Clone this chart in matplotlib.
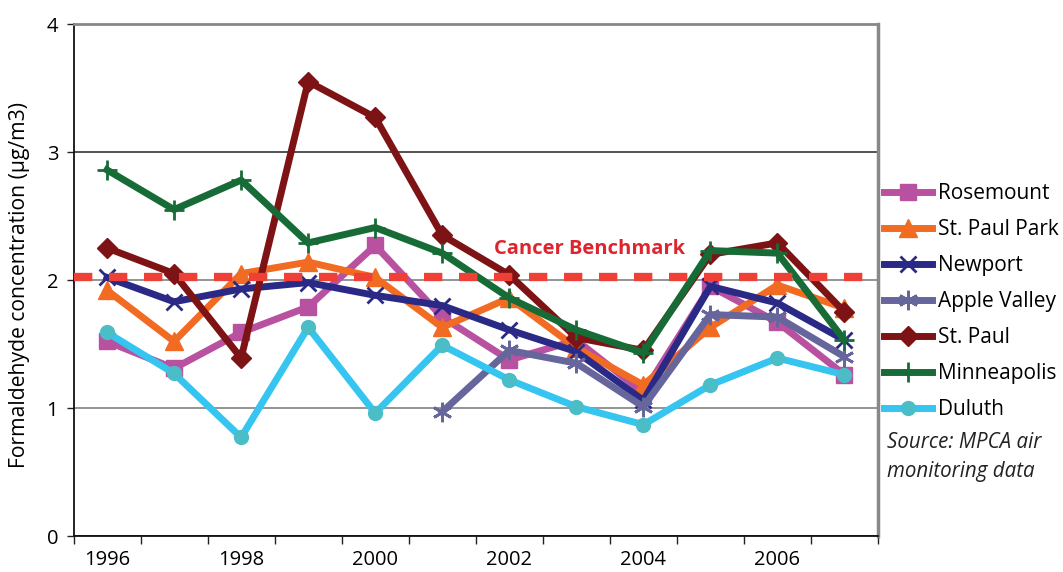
import matplotlib
matplotlib.use("Agg")
import matplotlib.pyplot as plt
import numpy as np

plt.rcParams['font.family'] = ['Open Sans', 'DejaVu Sans']

years = list(range(1996, 2008))
tick_labels = ['1996', '1998', '2000', '2002', '2004', '2006']

rosemount = [1.52, 1.31, 1.59, 1.79, 2.27, 1.71, 1.375, 1.53, 1.12, 1.95, 1.67, 1.26]
st_paul_park = [1.92, 1.52, 2.05, 2.14, 2.02, 1.63, 1.86, 1.47, 1.18, 1.63, 1.96, 1.78]
newport = [2.02, 1.83, 1.93, 1.98, 1.88, 1.80, 1.61, 1.44, 1.06, 1.95, 1.82, 1.53]
apple_valley = [np.nan, np.nan, np.nan, np.nan, np.nan, 0.97, 1.45, 1.35, 1.01, 1.73, 1.71, 1.40]
st_paul = [2.25, 2.05, 1.39, 3.55, 3.27, 2.35, 2.04, 1.55, 1.45, 2.20, 2.29, 1.75]
minneapolis = [2.86, 2.55, 2.78, 2.29, 2.41, 2.21, 1.86, 1.61, 1.43, 2.23, 2.21, 1.53]
duluth = [1.59, 1.27, 0.77, 1.63, 0.96, 1.49, 1.22, 1.01, 0.87, 1.18, 1.39, 1.26]
benchmark = 2.02

series = [
    ("Rosemount", rosemount, '#B8519F', '#B8519F', 's', 12, 1.0),
    ("St. Paul Park", st_paul_park, '#F26B22', '#F26B22', '^', 13, 1.0),
    ("Newport", newport, '#2A2A86', '#2A2A86', 'x', 12, 2.0),
    ("Apple Valley", apple_valley, '#66659C', '#66659C', (6, 2, 0), 14, 2.0),
    ("St. Paul", st_paul, '#7D1315', '#7D1315', 'D', 10, 1.0),
    ("Minneapolis", minneapolis, '#176B36', '#176B36', '+', 14, 2.0),
    ("Duluth", duluth, '#35C5F0', '#4ABDC6', 'o', 11, 0.0),
]

fig = plt.figure(figsize=(10.63, 5.72), dpi=100)
ax = fig.add_axes([73.5 / 1063, 1 - 536 / 572, (878 - 73.5) / 1063, (536 - 24) / 572])

x = np.arange(len(years))
handles = []
for name, vals, lc, mc, mk, ms, mew in series:
    h, = ax.plot(x, vals, color=lc, lw=5, marker=mk, markersize=ms,
                 markerfacecolor=mc, markeredgecolor=mc, markeredgewidth=mew,
                 label=name, solid_joinstyle='miter', zorder=3)
    handles.append(h)

ax.axhline(benchmark, color='#EE4036', lw=6, linestyle=(0, (2.2, 2.0)), zorder=4)
ax.text(7.2, 2.24, 'Cancer Benchmark', color='#E0242D',
        fontsize=14.5, fontweight='bold', ha='center', va='center', zorder=6)

ax.set_xlim(-0.5, 11.5)
ax.set_ylim(0, 4)
ax.set_xticks(np.arange(-0.5, 12, 1))
ax.set_xticklabels([])
ax.set_xticks(x[::2], minor=True)
ax.set_xticklabels(tick_labels, minor=True)
ax.tick_params(axis='x', which='major', direction='out', length=6, width=1, color='#222')
ax.tick_params(axis='x', which='minor', length=0, pad=10, labelsize=14.5)
ax.set_yticks([0, 1, 2, 3, 4])
ax.set_yticklabels(['0', '1', '2', '3', '4'])
ax.tick_params(axis='y', direction='out', length=5, width=1, color='#222', labelsize=14.5, pad=6)

ax.yaxis.grid(True, zorder=0)
glines = ax.get_ygridlines()
gcols = ['#00000000', '#777777', '#777777', '#222222', '#00000000']
for gl, c in zip(glines, gcols):
    gl.set_color(c)
    gl.set_linewidth(1.1)
ax.set_axisbelow(True)

ax.spines['left'].set_color('#111')
ax.spines['bottom'].set_color('#111')
ax.spines['left'].set_linewidth(1.3)
ax.spines['bottom'].set_linewidth(1.3)
ax.spines['top'].set_color('#888')
ax.spines['right'].set_color('#888')
ax.spines['top'].set_linewidth(2)
ax.spines['right'].set_linewidth(2.5)

ax.set_ylabel('Formaldehyde concentration (µg/m3)', fontsize=15.2, labelpad=6)
ax.yaxis.set_label_coords(-0.054, 0.49)

fig.legend(handles=handles, loc='upper left', bbox_to_anchor=(884 / 1063, 1 - 183 / 572),
           frameon=False, fontsize=15, handlelength=2.3, handletextpad=0.3,
           labelspacing=0.72, borderpad=0, borderaxespad=0)

fig.text(887 / 1063, 1 - 443 / 572, 'Source: MPCA air', fontsize=14.8, style='italic',
         color='#222', va='center', ha='left')
fig.text(887 / 1063, 1 - 471 / 572, 'monitoring data', fontsize=14.8, style='italic',
         color='#222', va='center', ha='left')

fig.savefig('out.png', dpi=100)
